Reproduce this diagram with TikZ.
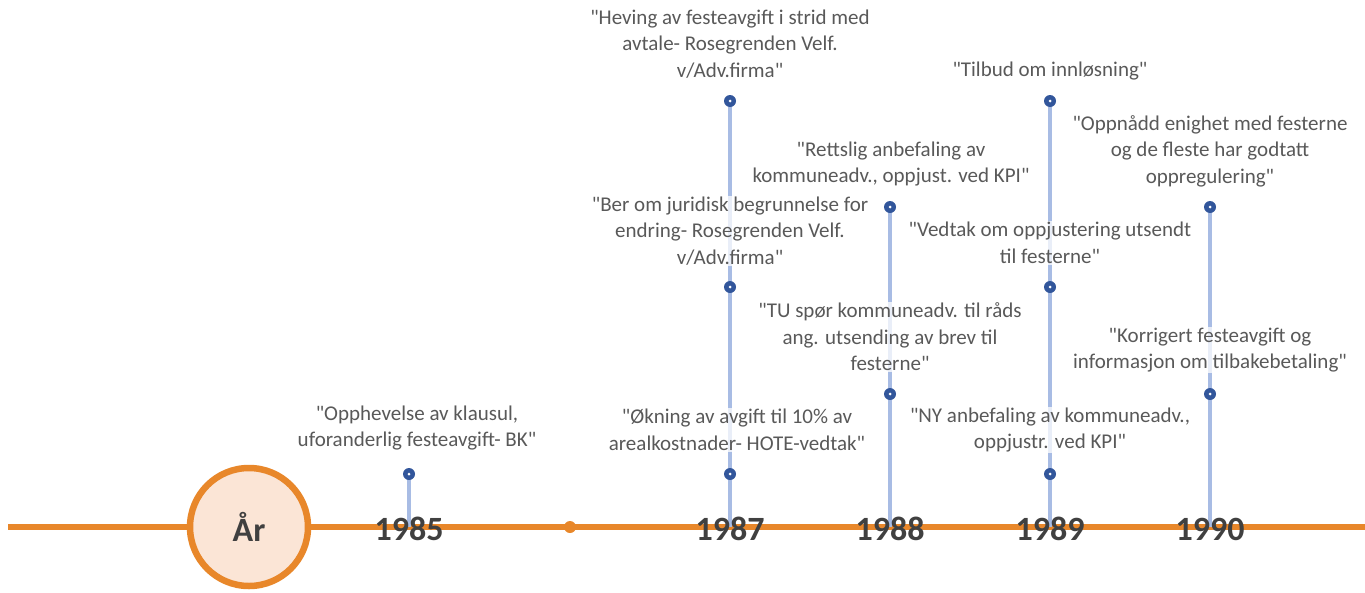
\documentclass[tikz,border=0pt]{standalone}
\usepackage{fontspec}
\setmainfont{Carlito}[Ligatures=TeXOff]
\definecolor{axisorange}{RGB}{232,135,42}
\definecolor{circfill}{RGB}{251,229,214}
\definecolor{stemblue}{RGB}{168,188,228}
\definecolor{markblue}{RGB}{50,86,155}
\definecolor{yeargray}{RGB}{64,64,64}
\definecolor{textgray}{RGB}{89,89,89}
\tikzset{
  marker/.style={circle, fill=markblue, minimum size=12pt, inner sep=0pt,
    path picture={\fill[white] (path picture bounding box.center) circle (1.5pt);}},
  stem/.style={draw=stemblue, line width=4.5pt},
  evtext/.style={align=center, font=\fontsize{21}{26.5}\selectfont, text=textgray,
    fill=white, fill opacity=0.75, text opacity=1, inner sep=1pt},
  yearlabel/.style={font=\fontsize{34}{36}\selectfont\bfseries, text=yeargray, inner sep=0pt},
}
\begin{document}
\begin{tikzpicture}[x=1pt,y=-1pt]
\useasboundingbox (0,0) rectangle (1365,592);
% axis
\coordinate (axL) at (8,527);
\coordinate (axR) at (1365,527);
\draw[axisorange, line width=6.5pt] (axL) -- (axR);
\node[circle, draw=axisorange, line width=6.5pt, fill=circfill, minimum size=118pt, inner sep=0pt,
  font=\fontsize{34}{36}\selectfont\bfseries, text=yeargray] (ar) at (249,527) {År};
\node[circle, fill=axisorange, minimum size=12pt, inner sep=0pt] (dot) at (570,527) {};
% axis points
\coordinate (a85) at (409,527);
\coordinate (a87) at (730,527);
\coordinate (a88) at (890,527);
\coordinate (a89) at (1050,527);
\coordinate (a90) at (1210,527);
% marker positions
\coordinate (m85a) at (409,474);
\coordinate (m87a) at (730,101);
\coordinate (m87b) at (730,287);
\coordinate (m87c) at (730,474);
\coordinate (m88a) at (890,207);
\coordinate (m88b) at (890,394);
\coordinate (m89a) at (1050,101);
\coordinate (m89b) at (1050,287);
\coordinate (m89c) at (1050,474);
\coordinate (m90a) at (1210,207);
\coordinate (m90b) at (1210,394);
% stems
\draw[stem] (m85a) -- (a85);
\draw[stem] (m87a) -- (a87);
\draw[stem] (m88a) -- (a88);
\draw[stem] (m89a) -- (a89);
\draw[stem] (m90a) -- (a90);
% event texts
\node[evtext] (t85) at (417,428) {"Opphevelse av klausul,\\uforanderlig festeavgift- BK"};
\node[evtext] (t87a) at (730,44) {"Heving av festeavgift i strid med\\avtale- Rosegrenden Velf.\\v/Adv.firma"};
\node[evtext] (t87b) at (730,231) {"Ber om juridisk begrunnelse for\\endring- Rosegrenden Velf.\\v/Adv.firma"};
\node[evtext] (t87c) at (737,430) {"Økning av avgift til 10\% av\\arealkostnader- HOTE-vedtak"};
\node[evtext] (t88a) at (891,164) {"Rettslig anbefaling av\\kommuneadv., oppjust. ved KPI"};
\node[evtext] (t88b) at (890,337) {"TU spør kommuneadv. til råds\\ang. utsending av brev til\\festerne"};
\node[evtext] (t89a) at (1050,71) {"Tilbud om innløsning"};
\node[evtext] (t89b) at (1050,243) {"Vedtak om oppjustering utsendt\\til festerne"};
\node[evtext] (t89c) at (1050,430) {"NY anbefaling av kommuneadv.,\\oppjustr. ved KPI"};
\node[evtext] (t90a) at (1210,151) {"Oppnådd enighet med festerne\\og de fleste har godtatt\\oppregulering"};
\node[evtext] (t90b) at (1210,350) {"Korrigert festeavgift og\\informasjon om tilbakebetaling"};
% markers
\foreach \m in {m85a,m87a,m87b,m87c,m88a,m88b,m89a,m89b,m89c,m90a,m90b}
  \node[marker] (n\m) at (\m) {};
% year labels
\node[yearlabel] (y85) at (409,529) {1985};
\node[yearlabel] (y87) at (730,529) {1987};
\node[yearlabel] (y88) at (890,529) {1988};
\node[yearlabel] (y89) at (1050,529) {1989};
\node[yearlabel] (y90) at (1210,529) {1990};
\end{tikzpicture}
\end{document}
